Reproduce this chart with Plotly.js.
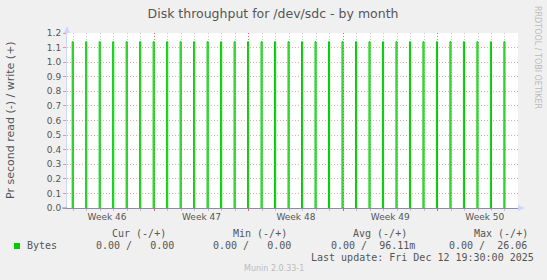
<!DOCTYPE html>
<html>
<head>
<meta charset="utf-8">
<script src="https://cdn.plot.ly/plotly-3.0.1.min.js"></script>
<style>
  html, body { margin: 0; padding: 0; background: #F0F0F0; }
  #chart { width: 547px; height: 280px; }
</style>
</head>
<body>
<div id="chart"></div>
<script>
// ---------------- data ----------------
const chartTitle = 'Disk throughput for /dev/sdc - by month';
const yTitle = 'Pr second read (-) / write (+)';
const seriesName = 'Bytes';

// daily write bursts (end of the 2h RRD bucket, i.e. the midnight they precede)
const spikeDays = [
  '2025-11-10','2025-11-11','2025-11-12','2025-11-13','2025-11-14','2025-11-15','2025-11-16',
  '2025-11-17','2025-11-18','2025-11-19','2025-11-20','2025-11-21','2025-11-22','2025-11-23',
  '2025-11-24','2025-11-25','2025-11-26','2025-11-27','2025-11-28','2025-11-29','2025-11-30',
  '2025-12-01','2025-12-02','2025-12-03','2025-12-04','2025-12-05','2025-12-06','2025-12-07',
  '2025-12-08','2025-12-09','2025-12-10','2025-12-11','2025-12-12'
];
const writeValues = [
  1.14,1.14,1.14,1.14,1.14,1.14,1.14,
  1.14,1.14,1.14,1.14,1.14,1.14,1.14,
  1.14,1.14,1.14,1.14,1.14,1.14,1.14,
  1.14,1.14,1.14,1.14,1.14,1.14,1.14,
  1.14,1.14,1.14,1.14,1.14
];
const rrdStepHours = 2;

const xRange = ['2025-11-09 12:47', '2025-12-12 23:09'];
const weekStarts = ['2025-11-16', '2025-11-23', '2025-11-30', '2025-12-07'];
const weekLabelDates = ['2025-11-12 12:00', '2025-11-19 12:00', '2025-11-26 12:00', '2025-12-03 12:00', '2025-12-10 12:00'];
const weekLabels = ['Week 46', 'Week 47', 'Week 48', 'Week 49', 'Week 50'];
const yTickVals = [0, 0.1, 0.2, 0.3, 0.4, 0.5, 0.6, 0.7, 0.8, 0.9, 1.0, 1.1, 1.2];

const statHeaders = ['Cur (-/+)', 'Min (-/+)', 'Avg (-/+)', 'Max (-/+)'];
const statRead = ['0.00', '0.00', '0.00', '0.00'];
const statWrite = ['0.00', '0.00', '96.11', '26.06'];
const statWriteUnit = ['', '', 'm', ''];
const lastUpdate = 'Last update: Fri Dec 12 19:30:00 2025';
const muninVersion = 'Munin 2.0.33-1';
const rrdWatermark = 'RRDTOOL / TOBI OETIKER';

// ---------------- build ----------------
const L = 67, R = 29, T = 33, B = 72;
const WIDTH = 547, HEIGHT = 280;
const W = WIDTH - L - R, H = HEIGHT - T - B;
const fx = p => (p - L) / W;
const fy = p => (T + H - p) / H;
const NB = '\u00a0';
const pad = (s, n) => NB.repeat(Math.max(0, n - s.length)) + s;

const sx = [], sy = [];
spikeDays.forEach((d, i) => {
  const end = Date.parse(d + 'T00:00:00Z');
  const start = end - rrdStepHours * 3600e3;
  sx.push(start, start, end, end, null);
  sy.push(0, writeValues[i], writeValues[i], 0, null);
});

const green = '#00CC00';
const txt = '#555555';
const sans = 'DejaVu Sans';
const mono = 'DejaVu Sans Mono';

const traces = [
  {
    x: sx, y: sy, type: 'scatter', mode: 'lines',
    line: { color: green, width: 1 },
    fill: 'tozeroy', fillcolor: 'rgba(0,204,0,0.35)',
    connectgaps: false, hoverinfo: 'skip', showlegend: false, name: seriesName
  },
  { x: [], y: [], xaxis: 'x2', yaxis: 'y', type: 'scatter', mode: 'lines', showlegend: false, hoverinfo: 'skip' }
];

const annotations = [];
annotations.push({
  text: yTitle, xref: 'paper', yref: 'paper', x: fx(10), y: fy(120),
  textangle: -90, showarrow: false, xanchor: 'center', yanchor: 'middle',
  font: { family: sans, size: 11, color: txt }
});
annotations.push({
  text: rrdWatermark, xref: 'paper', yref: 'paper', x: fx(538), y: fy(57),
  textangle: 90, showarrow: false, xanchor: 'center', yanchor: 'middle',
  font: { family: sans, size: 8, color: '#BBBBBB' }
});
const monoAnn = (text, px, py) => annotations.push({
  text: text.replace(/ /g, NB), xref: 'paper', yref: 'paper', x: fx(px - 2), y: fy(py),
  showarrow: false, xanchor: 'left', yanchor: 'middle',
  font: { family: mono, size: 10, color: txt }
});
monoAnn(seriesName, 26.7, 245.7);
const headerX = [111.7, 232.7, 352.7, 473.7];
const valueX = [95.7, 213.3, 331, 448.7];
statHeaders.forEach((h, i) => {
  monoAnn(h, headerX[i], 233.3);
  monoAnn(statRead[i] + ' /' + pad(statWrite[i], 7) + statWriteUnit[i], valueX[i], 245.7);
});
monoAnn(lastUpdate, 311, 257.7);
annotations.push({
  text: muninVersion, xref: 'paper', yref: 'paper', x: fx(242), y: fy(268.5),
  showarrow: false, xanchor: 'left', yanchor: 'middle',
  font: { family: sans, size: 8, color: '#BBBBBB' }
});

const shapes = [
  // legend swatch
  { type: 'rect', xref: 'paper', yref: 'paper', x0: fx(14), x1: fx(20), y0: fy(249), y1: fy(243),
    fillcolor: green, line: { width: 0 } },
  // y axis extension + arrow
  { type: 'line', xref: 'paper', yref: 'paper', x0: fx(67), x1: fx(67), y0: fy(33), y1: fy(30),
    line: { color: '#CFD6F8', width: 1 } },
  { type: 'path', xref: 'paper', yref: 'paper',
    path: `M ${fx(64)} ${fy(33)} L ${fx(70)} ${fy(33)} L ${fx(67)} ${fy(26)} Z`,
    fillcolor: '#CFD6F8', line: { width: 0 } },
  // x axis extension + arrow
  { type: 'line', xref: 'paper', yref: 'paper', x0: fx(62), x1: fx(67), y0: fy(208), y1: fy(208),
    line: { color: '#8C8CAA', width: 1 } },
  { type: 'line', xref: 'paper', yref: 'paper', x0: fx(518), x1: fx(520), y0: fy(208), y1: fy(208),
    line: { color: '#CFD6F8', width: 1 } },
  { type: 'path', xref: 'paper', yref: 'paper',
    path: `M ${fx(518)} ${fy(205)} L ${fx(518)} ${fy(211)} L ${fx(525)} ${fy(208)} Z`,
    fillcolor: '#CFD6F8', line: { width: 0 } }
];

const layout = {
  width: WIDTH, height: HEIGHT,
  margin: { l: L, r: R, t: T, b: B, pad: 0 },
  paper_bgcolor: '#F0F0F0', plot_bgcolor: '#FFFFFF',
  showlegend: false,
  title: {
    text: chartTitle, xref: 'container', yref: 'container',
    x: 273 / WIDTH, y: 1 - 14 / HEIGHT, xanchor: 'center', yanchor: 'middle',
    font: { family: sans, size: 12.5, color: txt }
  },
  xaxis: {
    type: 'date', range: xRange, fixedrange: true,
    tickmode: 'array', tickvals: weekLabelDates, ticktext: weekLabels,
    ticks: '', showgrid: false, zeroline: false,
    showline: true, linecolor: '#8C8CAA', linewidth: 1,
    tickfont: { family: sans, size: 9, color: txt },
    minor: {
      tickmode: 'linear', tick0: '2025-11-10', dtick: 86400000,
      showgrid: true, gridcolor: '#C8C8C8', griddash: '1px,2px', gridwidth: 1,
      ticks: 'outside', ticklen: 2, tickcolor: '#C0C0C0'
    }
  },
  xaxis2: {
    type: 'date', range: xRange, overlaying: 'x', anchor: 'y', side: 'bottom', fixedrange: true,
    tickmode: 'array', tickvals: weekStarts, showticklabels: false,
    ticks: 'outside', ticklen: 2, tickcolor: 'rgba(255,0,0,0.5)',
    showgrid: true, gridcolor: 'rgba(255,0,0,0.45)', griddash: '1px,2px', gridwidth: 1,
    zeroline: false, showline: false
  },
  yaxis: {
    range: [0, 1.2], fixedrange: true,
    tickmode: 'array', tickvals: yTickVals, tickformat: '.1f',
    ticks: 'outside', ticklen: 3, tickcolor: 'rgba(255,0,0,0.4)',
    showgrid: true, gridcolor: 'rgba(220,60,60,0.45)', griddash: '1px,2px', gridwidth: 1,
    zeroline: false, showline: true, linecolor: '#CFD6F8', linewidth: 1,
    tickfont: { family: sans, size: 9, color: txt }
  },
  annotations: annotations,
  shapes: shapes
};

Plotly.newPlot('chart', traces, layout, { displayModeBar: false, staticPlot: true });
</script>
</body>
</html>
